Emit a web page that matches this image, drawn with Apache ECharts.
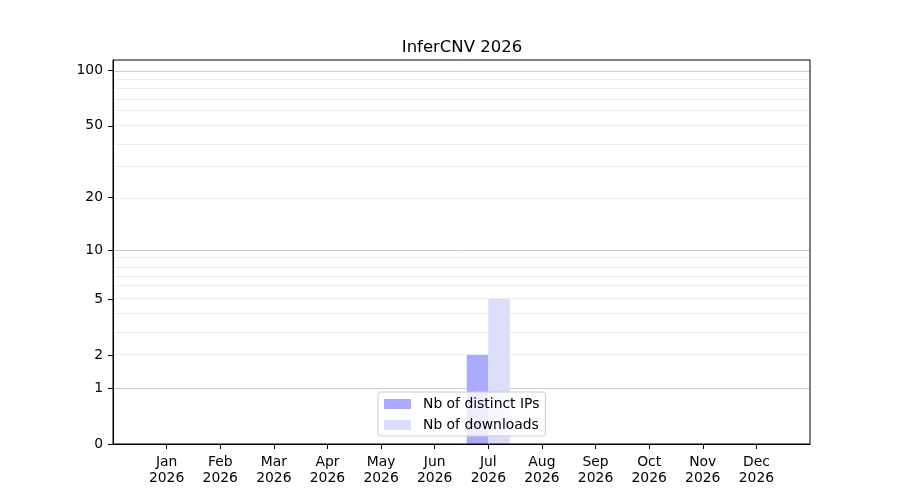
<!DOCTYPE html>
<html>
<head>
<meta charset="utf-8">
<script src="https://cdn.jsdelivr.net/npm/echarts@6/dist/echarts.min.js"></script>
<style>html,body{margin:0;padding:0;background:#fff}#c{width:900px;height:500px}</style>
</head>
<body>
<div id="c"></div>
<script>
const months = ['Jan','Feb','Mar','Apr','May','Jun','Jul','Aug','Sep','Oct','Nov','Dec'];
const year = '2026';
const distinctIPs = [0,0,0,0,0,0,2,0,0,0,0,0];
const downloads   = [0,0,0,0,0,0,5,0,0,0,0,0];
const yTickLabels = [0,1,2,5,10,20,50,100];
const majorGrid = [1,10,100];
const minorGrid = [2,3,4,5,6,7,8,9,20,30,40,50,60,70,80,90];
const yMaxValue = 114;

const tf = v => Math.log10(1 + v);
const inv = t => Math.round(Math.pow(10, t) - 1);
const FONT = 'DejaVu Sans';

const gridLines = majorGrid.map(v => ({yAxis: tf(v), lineStyle: {color: '#cbcbcb', width: 1, type: 'solid'}}))
  .concat(minorGrid.map(v => ({yAxis: tf(v), lineStyle: {color: '#ececec', width: 1, type: 'solid'}})));

const chart = echarts.init(document.getElementById('c'), null, {renderer: 'canvas'});
chart.setOption({
  animation: false,
  backgroundColor: '#ffffff',
  title: {
    text: 'InferCNV ' + year,
    left: 457, textAlign: 'center', top: 34,
    textStyle: {fontFamily: FONT, fontSize: 16.5, fontWeight: 'normal', color: '#000'}
  },
  grid: {left: 113, right: 90, top: 60, bottom: 56, show: true, z: 10, borderColor: '#000', borderWidth: 1, backgroundColor: 'transparent'},
  legend: {
    orient: 'vertical', left: 378, top: 392, z: 12,
    padding: [5, 6, 4, 6], itemGap: 7, itemWidth: 27, itemHeight: 10,
    backgroundColor: 'rgba(255,255,255,0.8)', borderColor: '#cccccc', borderWidth: 1, borderRadius: 3,
    textStyle: {fontFamily: FONT, fontSize: 13.9, color: '#000', padding: [0,0,0,7]},
    icon: 'rect',
    data: ['Nb of distinct IPs', 'Nb of downloads']
  },
  xAxis: {
    type: 'value', min: -1, max: 12, z: 10,
    splitLine: {show: false},
    axisLine: {show: true, onZero: false, lineStyle: {color: '#000', width: 1}},
    axisTick: {show: true, length: 5, customValues: months.map((m, i) => i), lineStyle: {color: '#000'}},
    axisLabel: {
      customValues: months.map((m, i) => i), margin: 10,
      fontFamily: FONT, fontSize: 13.9, color: '#000', lineHeight: 16,
      formatter: v => months[Math.round(v)] + '\n' + year
    }
  },
  yAxis: {
    type: 'value', min: 0, max: tf(yMaxValue), z: 10,
    splitLine: {show: false},
    axisLine: {show: true, onZero: false, lineStyle: {color: '#000', width: 1}},
    axisTick: {show: true, length: 5, customValues: yTickLabels.map(tf), lineStyle: {color: '#000'}},
    axisLabel: {
      customValues: yTickLabels.map(tf), margin: 10, padding: [2, 0, 0, 0],
      fontFamily: FONT, fontSize: 13.9, color: '#000',
      formatter: v => String(inv(v))
    }
  },
  series: [
    {
      name: 'Nb of distinct IPs', type: 'bar', barWidth: 21.5, barGap: '0%',
      itemStyle: {color: '#aaaaff'},
      data: distinctIPs.map((v, i) => [i, tf(v)]),
      markLine: {silent: true, symbol: 'none', z: 1, label: {show: false}, animation: false, data: gridLines}
    },
    {
      name: 'Nb of downloads', type: 'bar', barWidth: 21.5, barGap: '0%',
      itemStyle: {color: '#dcdcfb'},
      data: downloads.map((v, i) => [i, tf(v)])
    }
  ]
});
</script>
</body>
</html>
